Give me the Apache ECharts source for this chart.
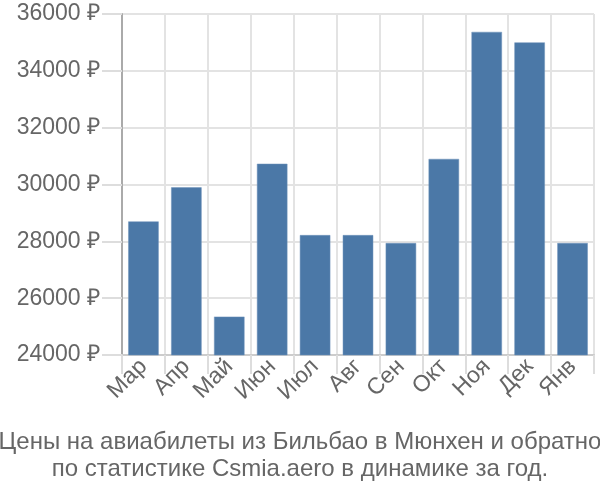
<!DOCTYPE html>
<html><head><meta charset="utf-8">
<script src="https://cdn.jsdelivr.net/npm/echarts@6/dist/echarts.min.js"></script>
<style>html,body{margin:0;padding:0;background:#fff}#c{width:600px;height:500px}</style>
</head><body><div id="c"></div>
<script>
const categories = ['Мар','Апр','Май','Июн','Июл','Авг','Сен','Окт','Ноя','Дек','Янв'];
const prices = [28700, 29900, 25350, 30730, 28220, 28220, 27940, 30900, 35370, 35000, 27940];
const yTicks = {min: 24000, max: 36000, interval: 2000};
const titleLines = ['Цены на авиабилеты из Бильбао в Мюнхен и обратно', 'по статистике Csmia.aero в динамике за год.'];

const FONT = 'Liberation Sans, Arial, sans-serif';
const chart = echarts.init(document.getElementById('c'), null, {renderer: 'canvas'});
chart.setOption({
  animation: false,
  title: {
    text: titleLines.join('\n'),
    left: 'center', top: 424,
    textStyle: {fontFamily: FONT, fontSize: 24, fontWeight: 'normal', color: '#666', lineHeight: 27}
  },
  grid: {left: 122, right: 6, top: 14, bottom: 145, containLabel: false},
  xAxis: {
    type: 'category', data: categories,
    axisLine: {show: true, lineStyle: {color: '#ccc', width: 2}},
    axisTick: {show: true, length: 19, lineStyle: {color: '#ddd', width: 2}},
    splitLine: {show: true, lineStyle: {color: '#e3e3e3', width: 2}},
    axisLabel: {rotate: 45, margin: 8, fontFamily: FONT, fontSize: 23, color: '#666'}
  },
  yAxis: {
    type: 'value', min: yTicks.min, max: yTicks.max, interval: yTicks.interval,
    axisLine: {show: true, lineStyle: {color: '#aaa', width: 2}},
    axisTick: {show: true, length: 20, lineStyle: {color: '#ddd', width: 2}},
    splitLine: {show: true, lineStyle: {color: '#e3e3e3', width: 2}},
    axisLabel: {margin: 22, formatter: v => v + ' ₽', fontFamily: FONT, fontSize: 23, color: '#666'}
  },
  series: [{
    type: 'bar', data: prices, barCategoryGap: '29%',
    itemStyle: {color: '#4b78a7', borderColor: '#6f93bb', borderWidth: 0.5}
  }]
});
</script></body></html>
